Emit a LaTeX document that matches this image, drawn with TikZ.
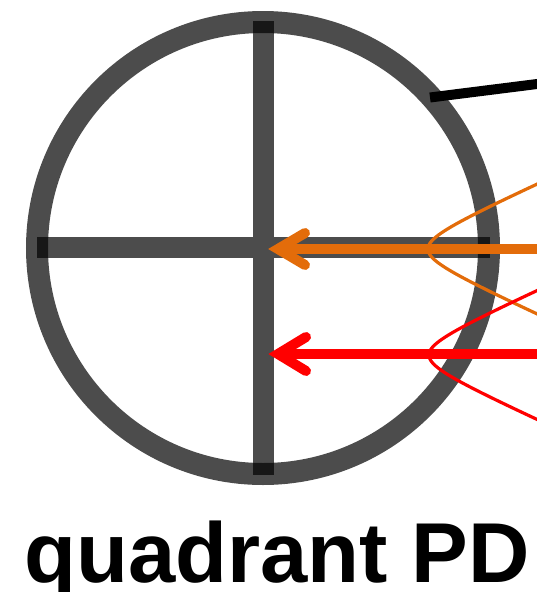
\documentclass[tikz,border=0pt]{standalone}
\usepackage{fontspec}
\setmainfont{Liberation Sans}
\definecolor{myorange}{RGB}{227,108,10}
\definecolor{myred}{RGB}{255,0,0}
\begin{document}
\begin{tikzpicture}[x=1pt,y=-1pt,
  ring/.style={draw=black,draw opacity=0.7,line width=22pt},
  crossbar/.style={draw=black,draw opacity=0.7,line width=21pt},
  beam/.style={line width=10pt},
  chevron/.style={line width=10pt,line cap=round,line join=miter},
  wave/.style={line width=3.2pt}]
\useasboundingbox (0,0) rectangle (537,592);
% detector
\path[ring] (263,248) circle (226);
\path[crossbar] (263,21) -- (263,475) (37,247) -- (490,247);
% black lead
\coordinate (lead0) at (430,97.5);
\coordinate (lead1) at (545,83);
\draw[black,line width=10pt] (lead0) -- (lead1);
% orange beam
\coordinate (o0) at (545,249);
\coordinate (o1) at (278,249);
\draw[myorange,beam] (o0) -- (o1);
\draw[myorange,chevron] (305,233) -- (o1) -- (305,265);
\draw[myorange,wave] plot[domain=-2.2:2.2,samples=80,smooth] ({386.8+41.2*cosh(\x)},{249+18.5*sinh(\x)});
% red beam
\coordinate (r0) at (545,354);
\coordinate (r1) at (278,354);
\draw[myred,beam] (r0) -- (r1);
\draw[myred,chevron] (306,337) -- (r1) -- (306,371);
\draw[myred,wave] plot[domain=-2.2:2.2,samples=80,smooth] ({387.8+41.2*cosh(\x)},{355+18.5*sinh(\x)});
% label
\node[anchor=base,inner sep=0pt,font=\fontsize{85}{88}\selectfont\bfseries] (lbl) at (277,582) {quadrant PD};
\end{tikzpicture}
\end{document}
